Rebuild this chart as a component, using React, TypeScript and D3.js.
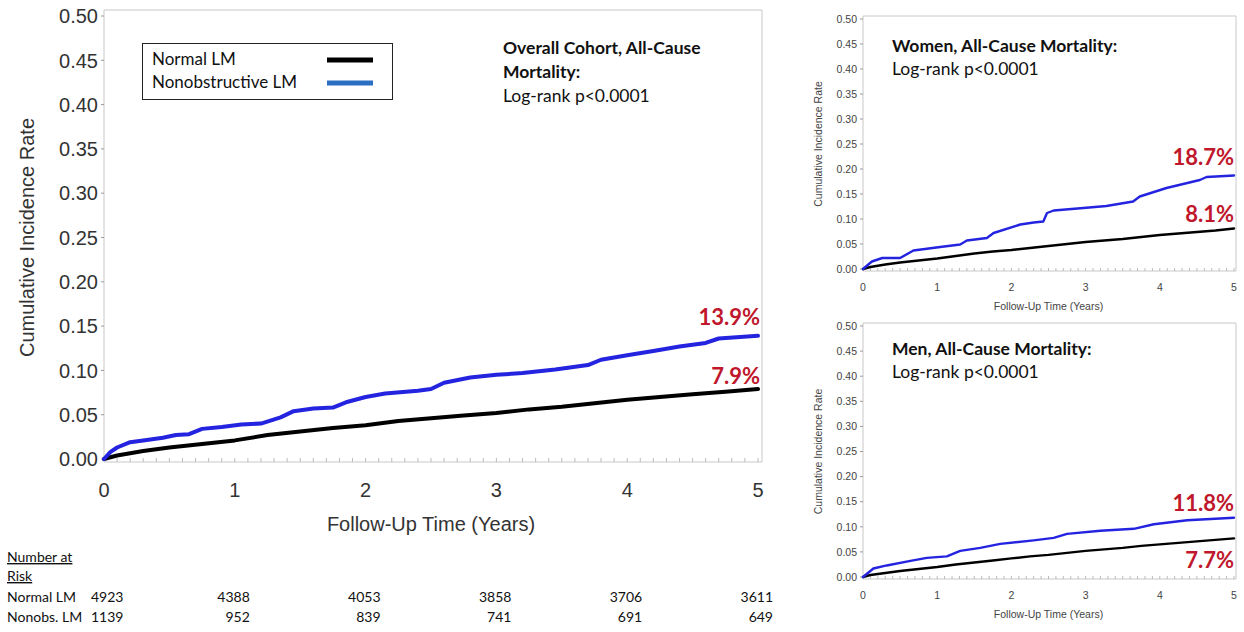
import React, { useEffect, useRef } from 'react';
import * as d3 from 'd3';

// ---- data ----
const yTicks = [0, 0.05, 0.1, 0.15, 0.2, 0.25, 0.3, 0.35, 0.4, 0.45, 0.5];
const xTicks = [0, 1, 2, 3, 4, 5];

const overallBlueT = [0, 0.05, 0.1, 0.2, 0.3, 0.45, 0.55, 0.65, 0.75, 0.9, 1.05, 1.2, 1.35, 1.45, 1.6, 1.75, 1.85, 2.0, 2.15, 2.4, 2.5, 2.6, 2.8, 3.0, 3.2, 3.45, 3.7, 3.8, 4.0, 4.2, 4.4, 4.6, 4.7, 5.0];
const overallBlueV = [0, 0.008, 0.013, 0.019, 0.021, 0.024, 0.027, 0.028, 0.034, 0.036, 0.039, 0.040, 0.047, 0.054, 0.057, 0.058, 0.064, 0.070, 0.074, 0.077, 0.079, 0.086, 0.092, 0.095, 0.097, 0.101, 0.106, 0.112, 0.117, 0.122, 0.127, 0.131, 0.136, 0.139];
const overallBlackT = [0, 0.1, 0.3, 0.5, 0.75, 1.0, 1.25, 1.5, 1.75, 2.0, 2.25, 2.5, 2.75, 3.0, 3.25, 3.5, 3.75, 4.0, 4.25, 4.5, 4.75, 5.0];
const overallBlackV = [0, 0.004, 0.009, 0.013, 0.017, 0.021, 0.027, 0.031, 0.035, 0.038, 0.043, 0.046, 0.049, 0.052, 0.056, 0.059, 0.063, 0.067, 0.070, 0.073, 0.076, 0.079];

const womenBlueT = [0, 0.12, 0.26, 0.5, 0.68, 1.04, 1.31, 1.4, 1.67, 1.76, 2.12, 2.3, 2.43, 2.48, 2.57, 2.97, 3.28, 3.64, 3.73, 4.09, 4.54, 4.63, 5.0];
const womenBlueV = [0, 0.015, 0.022, 0.022, 0.037, 0.044, 0.049, 0.057, 0.062, 0.072, 0.089, 0.093, 0.095, 0.112, 0.117, 0.122, 0.126, 0.135, 0.145, 0.162, 0.178, 0.184, 0.187];
const womenBlackT = [0, 0.1, 0.3, 0.5, 0.75, 1.0, 1.25, 1.5, 1.75, 2.0, 2.25, 2.5, 2.75, 3.0, 3.25, 3.5, 3.75, 4.0, 4.25, 4.5, 4.75, 5.0];
const womenBlackV = [0, 0.004, 0.009, 0.013, 0.017, 0.021, 0.026, 0.031, 0.035, 0.038, 0.042, 0.046, 0.050, 0.054, 0.057, 0.060, 0.064, 0.068, 0.071, 0.074, 0.077, 0.081];

const menBlueT = [0, 0.14, 0.32, 0.64, 0.86, 1.13, 1.31, 1.58, 1.85, 2.3, 2.57, 2.75, 3.2, 3.65, 3.92, 4.37, 5.0];
const menBlueV = [0, 0.017, 0.023, 0.032, 0.038, 0.041, 0.052, 0.058, 0.066, 0.073, 0.078, 0.086, 0.092, 0.096, 0.105, 0.113, 0.118];
const menBlackT = [0, 0.1, 0.3, 0.5, 0.75, 1.0, 1.25, 1.5, 1.75, 2.0, 2.25, 2.5, 2.75, 3.0, 3.25, 3.5, 3.75, 4.0, 4.25, 4.5, 4.75, 5.0];
const menBlackV = [0, 0.004, 0.008, 0.012, 0.016, 0.020, 0.025, 0.029, 0.033, 0.037, 0.041, 0.044, 0.048, 0.052, 0.055, 0.058, 0.062, 0.065, 0.068, 0.071, 0.074, 0.077];

const riskLabels = ['Normal LM', 'Nonobs. LM'];
const riskNormal = [4923, 4388, 4053, 3858, 3706, 3611];
const riskNonobs = [1139, 952, 839, 741, 691, 649];

const legendLabels = ['Normal LM', 'Nonobstructive LM'];

const BLUE = '#2424e0';
const RED = '#c0172c';
const ARIAL = '"Liberation Sans", Arial, sans-serif';
const CAL = 'Lato, "Open Sans", sans-serif';

type Panel = {
  x0: number; x1: number; yZero: number; yTop: number;
  tickFont: number; titleFont: number; lineW: number;
  xLabelY: number; xTitleY: number; yTitleX: number; yLabelX: number;
  blue: [number[], number[]]; black: [number[], number[]];
  title: string[]; titleX: number; titleY: number; titleGap: number;
  pctBlue: string; pctBlack: string; pctBlueY: number; pctBlackY: number;
  tickColor: string;
};

const panels: Panel[] = [
  {
    x0: 104, x1: 758, yZero: 459, yTop: 16, tickFont: 20, titleFont: 20, lineW: 4,
    xLabelY: 497, xTitleY: 531, yTitleX: 34, yLabelX: 98,
    blue: [overallBlueT, overallBlueV], black: [overallBlackT, overallBlackV],
    title: ['Overall Cohort, All-Cause', 'Mortality:', 'Log-rank p<0.0001'], titleX: 503, titleY: 54, titleGap: 24,
    pctBlue: '13.9%', pctBlack: '7.9%', pctBlueY: 325, pctBlackY: 384, tickColor: '#333'
  },
  {
    x0: 863, x1: 1234, yZero: 269, yTop: 19, tickFont: 10.5, titleFont: 10.5, lineW: 2.4,
    xLabelY: 291, xTitleY: 310, yTitleX: 822, yLabelX: 857,
    blue: [womenBlueT, womenBlueV], black: [womenBlackT, womenBlackV],
    title: ['Women, All-Cause Mortality:', 'Log-rank p<0.0001'], titleX: 892, titleY: 52, titleGap: 23,
    pctBlue: '18.7%', pctBlack: '8.1%', pctBlueY: 165, pctBlackY: 222, tickColor: '#444'
  },
  {
    x0: 863, x1: 1234, yZero: 577, yTop: 326, tickFont: 10.5, titleFont: 10.5, lineW: 2.4,
    xLabelY: 599, xTitleY: 618, yTitleX: 822, yLabelX: 857,
    blue: [menBlueT, menBlueV], black: [menBlackT, menBlackV],
    title: ['Men, All-Cause Mortality:', 'Log-rank p<0.0001'], titleX: 892, titleY: 355, titleGap: 23,
    pctBlue: '11.8%', pctBlack: '7.7%', pctBlueY: 511, pctBlackY: 568, tickColor: '#444'
  }
];

function drawPanel(svg: d3.Selection<SVGSVGElement, unknown, null, undefined>, p: Panel, main: boolean) {
  const x = d3.scaleLinear().domain([0, 5]).range([p.x0, p.x1]);
  const y = d3.scaleLinear().domain([0, 0.5]).range([p.yZero, p.yTop]);
  const g = svg.append('g');
  const frameTop = p.yTop - (main ? 6 : 3);
  const frameBottom = p.yZero + (main ? 3 : 2);
  const frameRight = p.x1 + (main ? 4 : 2);

  // frame
  g.append('path')
    .attr('d', `M${p.x0},${frameBottom}V${frameTop}H${frameRight}V${frameBottom}Z`)
    .attr('fill', 'none').attr('stroke', '#c8c8c8').attr('stroke-width', 1);

  // minor ticks on x axis
  const minor = d3.range(0, 5.001, 0.1);
  g.selectAll('line.minor').data(minor).enter().append('line')
    .attr('x1', d => x(d)).attr('x2', d => x(d))
    .attr('y1', frameBottom).attr('y2', frameBottom - (main ? 4 : 3))
    .attr('stroke', '#bbb').attr('stroke-width', 1);

  // y tick labels + ticks
  g.selectAll('text.yt').data(yTicks).enter().append('text')
    .attr('x', p.yLabelX).attr('y', d => y(d)).attr('dy', '0.36em')
    .attr('text-anchor', 'end').attr('font-family', ARIAL).attr('font-size', p.tickFont)
    .attr('fill', p.tickColor).text(d => d3.format('.2f')(d));
  g.selectAll('line.ytk').data(yTicks).enter().append('line')
    .attr('x1', p.x0 - 3).attr('x2', p.x0).attr('y1', d => y(d)).attr('y2', d => y(d))
    .attr('stroke', '#999');

  // x tick labels
  g.selectAll('text.xt').data(xTicks).enter().append('text')
    .attr('x', d => x(d)).attr('y', p.xLabelY)
    .attr('text-anchor', 'middle').attr('font-family', ARIAL).attr('font-size', p.tickFont)
    .attr('fill', p.tickColor).text(d => String(d));

  // axis titles
  g.append('text').attr('x', (p.x0 + p.x1) / 2).attr('y', p.xTitleY)
    .attr('text-anchor', 'middle').attr('font-family', ARIAL).attr('font-size', p.titleFont)
    .attr('fill', p.tickColor).text('Follow-Up Time (Years)');
  g.append('text')
    .attr('transform', `translate(${p.yTitleX},${(p.yZero + p.yTop) / 2}) rotate(-90)`)
    .attr('text-anchor', 'middle').attr('font-family', ARIAL).attr('font-size', p.titleFont)
    .attr('fill', p.tickColor).text('Cumulative Incidence Rate');

  // curves
  const line = d3.line<[number, number]>()
    .x(d => x(d[0]))
    .y(d => y(d[1]));
  const series: [number[], number[], string][] = [
    [p.black[0], p.black[1], '#000'],
    [p.blue[0], p.blue[1], BLUE]
  ];
  series.forEach(([ts, vs, col]) => {
    const pts = ts.map((t, i) => [t, vs[i]] as [number, number]);
    g.append('path').attr('d', line(pts) || '')
      .attr('fill', 'none').attr('stroke', col).attr('stroke-width', p.lineW)
      .attr('stroke-linejoin', 'round').attr('stroke-linecap', 'round');
  });

  // annotation
  p.title.forEach((t, i) => {
    g.append('text').attr('x', p.titleX).attr('y', p.titleY + i * p.titleGap)
      .attr('font-family', CAL).attr('font-size', 17.5)
      .attr('font-weight', i < p.title.length - 1 ? 700 : 400)
      .attr('fill', '#111').text(t);
  });

  // end labels
  [[p.pctBlue, p.pctBlueY], [p.pctBlack, p.pctBlackY]].forEach(([t, yy]) => {
    g.append('text').attr('x', frameRight - 2).attr('y', yy as number)
      .attr('text-anchor', 'end').attr('font-family', CAL).attr('font-size', 22)
      .attr('font-weight', 700).attr('fill', RED).text(t as string);
  });

  return x;
}

const App: React.FC = () => {
  const ref = useRef<SVGSVGElement>(null);

  useEffect(() => {
    if (!ref.current) return;
    const svg = d3.select(ref.current);
    svg.selectAll('*').remove();

    const xMain = drawPanel(svg, panels[0], true);
    drawPanel(svg, panels[1], false);
    drawPanel(svg, panels[2], false);

    // legend
    const lg = svg.append('g');
    lg.append('rect').attr('x', 142.5).attr('y', 43.5).attr('width', 250).attr('height', 56)
      .attr('fill', '#fff').attr('stroke', '#222').attr('stroke-width', 1);
    legendLabels.forEach((l, i) => {
      lg.append('text').attr('x', 152).attr('y', 65 + i * 23)
        .attr('font-family', CAL).attr('font-size', 17).attr('fill', '#111').text(l);
      lg.append('line').attr('x1', 327).attr('x2', 373)
        .attr('y1', 60 + i * 23).attr('y2', 60 + i * 23)
        .attr('stroke', i === 0 ? '#000' : '#2b6fc2').attr('stroke-width', 5);
    });

    // number at risk table
    const tb = svg.append('g').attr('font-family', CAL).attr('font-size', 14).attr('fill', '#111');
    ['Number at', 'Risk'].forEach((t, i) => {
      tb.append('text').attr('x', 7).attr('y', 562 + i * 19).text(t)
        .attr('text-decoration', 'underline');
    });
    const rows = [riskNormal, riskNonobs];
    rows.forEach((row, r) => {
      const yy = 602 + r * 20;
      tb.append('text').attr('x', 7).attr('y', yy).text(riskLabels[r]);
      row.forEach((v, i) => {
        const xx = i === 0 ? 91 : xMain(xTicks[i]) + 15;
        tb.append('text').attr('x', xx).attr('y', yy)
          .attr('text-anchor', i === 0 ? 'start' : 'end').text(String(v));
      });
    });
  }, []);

  return (
    <svg ref={ref} width={1244} height={632}
      style={{ position: 'absolute', left: 0, top: 0, background: '#fff', display: 'block' }} />
  );
};

export default App;
